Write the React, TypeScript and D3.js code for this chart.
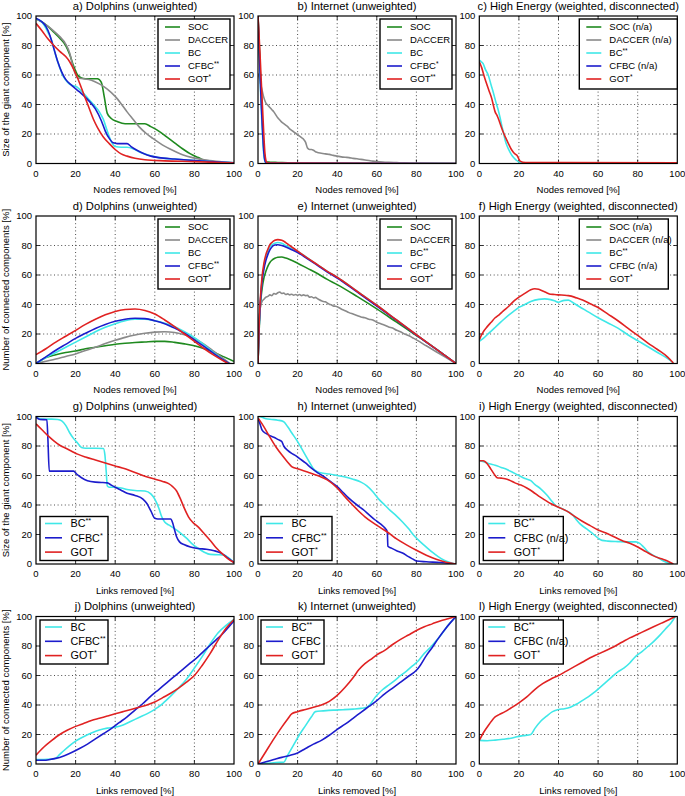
import React from 'react';
import * as d3 from 'd3';

type Pt = [number, number];

// ---------- tick labels ----------
const TICKS = [0, 20, 40, 60, 80, 100];

// ---------- a) Dolphins, giant component vs nodes removed ----------
const aSOC: Pt[] = [[0,98],[3,96],[6,93],[9,89],[12,85],[15,80],[17,74],[19,66],[21,60],[23,58],[25,57.5],[28,57.5],[31,57.5],[33,55],[34.5,45],[36,34],[38,30.5],[41,28.5],[45,27],[50,27],[55,27],[58,25],[62,22],[66,18],[70,14],[74,10],[78,6.5],[82,4],[86,1.5],[90,0.6],[100,0.3]];
const aDACCER: Pt[] = [[0,98],[4,95],[8,91],[12,86],[15,81],[17,75],[19,64],[21,58],[24,57.5],[28,56.5],[32,54],[36,50.5],[40,45.5],[43,40.5],[46,35],[49,30],[52,25],[56,20],[59,17],[64,12.5],[69,9],[74,6],[79,4],[85,2.5],[91,1.5],[100,0.5]];
const aBC: Pt[] = [[0,98],[2,97],[4,94],[6,89],[8,83],[10,73],[12,65],[14,58.5],[16,55],[18,53],[20.5,52],[23,49],[26,44.5],[29,40],[32,35],[34,30],[36,22],[38,15],[40,11.5],[43,11],[46,11],[49,10],[52,8],[55,6.5],[60,4.5],[65,3.5],[70,3],[80,2],[90,1.2],[100,0.5]];
const aCFBC: Pt[] = [[0,98.5],[3,96],[5,93],[7,87],[9,78],[11,69],[13,62],[15,57],[18,53],[22,48.5],[26,43.5],[30,37],[33,29],[35,22],[37,17],[39,14],[41,13.5],[46,13.5],[48,11.5],[51,9],[54,7],[58,5],[62,4],[70,3],[80,2],[90,1.2],[100,0.5]];
const aGOT: Pt[] = [[0,95],[3,90],[6,84.5],[9,80],[12,76],[15,72.5],[17,69],[19,64],[21,58],[23,51],[25,44],[27,37],[29,30],[31,24.5],[34,18],[37,13.5],[40,9.5],[43,6.5],[46,5],[50,3.5],[55,2.5],[65,1.8],[80,1.3],[100,0.3]];

// ---------- b) Internet, giant component vs nodes removed ----------
const bSOC: Pt[] = [[0,100],[0.5,85],[1,68],[1.5,50],[2,34],[2.5,20],[3,9],[3.5,3],[4,1.2],[6,0.9],[10,0.7],[15,0.5],[20,0.2],[30,0.1],[100,0]];
const bDACCER: Pt[] = [[0,61],[0.5,59],[1,56],[1.5,53],[2,50],[2.5,47],[3,44.5],[3.5,42.5],[4,41],[5,39.5],[6,38],[7,36.5],[8,35],[9,33],[10,31],[11,29.5],[12,28],[13,27],[14,26],[15,25],[16,23.5],[17,22.5],[18,21.5],[19,20.5],[20,19.5],[21,18.5],[22,17.5],[23,16.5],[24,14.5],[25,10.5],[26,9.5],[27,9.5],[28,9],[29,8],[30,7.5],[32,7],[34,6.5],[36,6.2],[38,5.5],[40,5],[42,4.5],[44,4.2],[46,4],[48,3.5],[50,3.2],[52,2.8],[54,2.4],[56,2],[58,1.6],[60,1.3],[63,1],[66,0.8],[70,0.6],[74,0.4],[78,0.1],[100,0]];
const bBC: Pt[] = [[0,100],[0.5,80],[1,60],[1.5,42],[2,27],[2.5,14],[3,5],[3.5,1.5],[4,0.5],[100,0]];
const bCFBC: Pt[] = [[0,100],[0.5,82],[1,63],[1.5,45],[2,30],[2.5,17],[3,7],[3.5,2],[4,0.6],[5,0.3],[100,0]];
const bGOT: Pt[] = [[0,100],[0.5,88],[1,75],[1.5,60],[2,46],[2.5,32],[3,18],[3.5,7],[4,2],[4.5,0.7],[5,0.3],[100,0]];

// ---------- c) High Energy, giant component vs nodes removed ----------
const cBC: Pt[] = [[0,70],[1,69],[2,67.5],[3,64],[4.5,60],[6,53],[7,48.5],[8.5,41],[9.6,36],[10.5,31],[11.3,26],[12.2,21],[13,16],[14,12],[15,9],[16,6.5],[17,4.5],[18.5,2.5],[20,1],[22,0.5],[30,0.3],[100,0.3]];
const cGOT: Pt[] = [[0,69],[1.2,65],[2.5,59],[3.7,54],[5,49],[6.3,44],[7.2,39],[8,35],[9,32.5],[9.6,30.5],[10.8,26],[12,21.5],[13.3,17.5],[14.7,13.5],[16,10],[17,8],[18,6.5],[19,5.6],[20,3],[20.6,1.6],[22,0.9],[25,0.7],[40,0.6],[100,0.5]];

// ---------- d) Dolphins, components vs nodes removed ----------
const dSOC: Pt[] = [[0,0],[5,4],[10,6],[15,7.5],[20,8.5],[25,10],[30,11],[35,12],[40,13],[45,13.7],[50,14.2],[55,14.6],[60,15],[65,15],[70,14.3],[75,13.3],[80,12],[85,10],[90,7.5],[95,4.5],[100,1.5]];
const dDACCER: Pt[] = [[0,0],[5,1.5],[10,3],[15,4.8],[20,6.5],[25,8.8],[30,11],[35,13.5],[40,15.7],[45,17.7],[50,19.3],[55,20.5],[60,21.3],[65,21.5],[70,21],[75,19.5],[80,17],[85,13],[90,8],[95,3],[97,1],[98,0]];
const dBC: Pt[] = [[0,0],[5,4],[10,7.5],[15,11],[20,14.5],[25,18],[30,21.5],[35,24.5],[40,27],[45,29],[50,30],[55,30],[60,29],[65,27.3],[70,25],[75,21.5],[80,17.5],[85,12.5],[90,7],[95,2],[97.5,0]];
const dCFBC: Pt[] = [[0,0],[5,4.5],[10,9],[15,13],[20,17],[25,20.5],[30,23.8],[35,26.5],[40,28.6],[45,30],[50,30.7],[55,30.4],[60,29],[65,27],[70,24],[75,20.5],[80,16],[85,11.5],[90,6.5],[95,2],[97.5,0]];
const dGOT: Pt[] = [[0,6],[5,10],[10,14.5],[15,18.5],[20,22.5],[25,26.5],[30,30],[35,33],[40,35.3],[45,36.6],[50,37],[55,36],[60,33.5],[65,29.5],[70,25],[75,20],[80,15],[85,10],[90,5.5],[95,1.5],[97,0]];

// ---------- e) Internet, components vs nodes removed ----------
const eSOC: Pt[] = [[0,0],[0.5,20],[1,35],[1.5,44],[2,50],[3,58],[4,62.5],[5,66],[6,68.5],[7,70],[8.5,71.3],[10,72],[12,72.2],[14,71.5],[16,70.5],[20,68],[25,64.5],[30,61],[35,57],[40,53.5],[50,45.5],[60,37],[70,28],[80,19],[90,9.8],[100,0]];
const eDACCER: Pt[] = [[0,0],[0.5,25],[1,36],[1.5,40],[2,42],[3,43.5],[4,45],[5,45.5],[6,46.5],[7,46],[8,47.5],[9,47],[10,48],[11,48.5],[12,47.5],[13,47.8],[14,46.8],[15,47.2],[16,46.5],[17,47],[18,46.3],[19,46.8],[20,46.2],[21,46.8],[22,46],[23,46.5],[24,46],[25,46.2],[26,45],[27,45.3],[28,44.5],[29,44.8],[30,44],[31,43.2],[32,42.5],[33,42],[34,41.8],[35,41],[36,40.2],[37,39.8],[38,39],[39,38.8],[40,38.5],[42,37],[44,35.8],[46,34.5],[48,33.5],[50,32.5],[52,31.5],[54,31],[56,30],[58,29.5],[60,28],[62,27],[64,26],[66,24.8],[68,24],[70,22.5],[72,21.5],[74,20],[76,19],[78,17.5],[80,16],[85,12],[90,8],[95,4],[100,0]];
const eBC: Pt[] = [[0,0],[0.5,22],[1,38],[1.5,48],[2,56],[3,66],[4,72],[5,76],[6,79],[7,80.5],[8.5,81.5],[10,82],[12,81.5],[14,80],[16,78.5],[20,76],[25,71.5],[30,67],[35,62.5],[40,58.5],[50,49],[60,39.5],[70,29.5],[80,19.5],[90,9.8],[100,0]];
const eCFBC: Pt[] = [[0,0],[0.5,22],[1,38],[1.5,47],[2,55],[3,64],[4,70],[5,74],[6,77],[7,79],[8.5,80.3],[10,80.5],[12,80],[14,79],[16,77.8],[20,75.3],[25,71],[30,66.5],[35,62],[40,58],[50,48.5],[60,39],[70,29.3],[80,19.3],[90,9.7],[100,0]];
const eGOT: Pt[] = [[0,0],[0.5,24],[1,40],[1.5,50],[2,58],[3,68],[4,74],[5,77.5],[6,80.5],[7,82],[8.5,83.5],[10,84],[12,83.5],[14,82],[16,80],[20,76.2],[25,71.5],[30,67],[35,62.5],[40,58.5],[50,49],[60,39.5],[70,29.5],[80,19.5],[90,9.8],[100,0]];

// ---------- f) High Energy, components vs nodes removed ----------
const fBC: Pt[] = [[0,15],[1,16],[2,17],[4,19.5],[6,22],[8,24.5],[10,27],[12,29.5],[15,33],[18,36],[20,38],[23,40],[26,42],[30,43.5],[33,43.8],[36,43.3],[38,42.5],[40,41.5],[41,42],[43,42.8],[45,43],[47,41.5],[50,39],[55,35],[60,31],[65,27.5],[70,24],[75,19.5],[80,15.5],[85,11.5],[90,7.5],[95,3.5],[98,0.5]];
const fGOT: Pt[] = [[0,16],[1,19],[2,21.5],[4,25],[6,28],[8,31],[10,33],[12,35.5],[15,39],[18,43],[20,45],[23,47.5],[26,50],[28,50.7],[30,50.3],[32,49.2],[34,48],[36,47],[38,46.8],[40,46.5],[43,46.3],[45,46],[48,45],[50,44],[53,42.5],[56,40.5],[60,38],[65,33.5],[70,29],[75,24],[80,19],[85,14],[90,9.5],[95,4.5],[98,0.3]];

// ---------- g) Dolphins, giant component vs links removed ----------
const gBC: Pt[] = [[0,99.5],[2,98.5],[5,98.2],[8,98.2],[11,98],[13,97],[15,94],[17,89],[19,85],[21,82],[23,79],[25,78.5],[30,78.5],[34,78.3],[34.8,74],[35.5,62],[36,53],[37,52],[40,52],[43,51.5],[46,50.5],[50,49.8],[55,49.5],[58,47.5],[60,44],[62,38],[63.5,32],[65,28.5],[67,26.5],[70,24],[73,21],[76,17.5],[79,13.5],[82,10.5],[85,8],[88,6.5],[92,6.3],[95,6],[97,4.5],[100,1]];
const gCFBC: Pt[] = [[0,99.5],[2,98],[5.5,97.8],[6,85],[6.7,63],[10,63],[15,63],[19,63],[20.5,61],[23,58.5],[26,56.5],[30,55.5],[33,55.3],[36,55],[38,53.5],[40,52],[43,50],[46,48],[50,46.5],[54,44],[56,41],[58,36],[60,31],[61.5,30.5],[65,30.5],[68,30.5],[69,28],[70,23],[71,18.5],[72.5,15],[75,13],[78,11.5],[82,10.5],[86,10],[90,9],[94,7],[97,4],[100,1]];
const gGOT: Pt[] = [[0,95],[3,91],[6,87],[9,83.5],[12,80.5],[15,78.5],[18,76.5],[21,74.5],[25,72.5],[30,70.5],[35,68.5],[40,66.5],[45,64.5],[50,62],[55,59.5],[60,57.5],[64,56],[67,54.5],[69,52.5],[71,49.5],[73,44],[75,37.5],[77,32],[79,28.5],[82,25],[85,20.5],[88,16],[91,11],[94,7],[97,3.5],[100,1]];

// ---------- h) Internet, giant component vs links removed ----------
const hBC: Pt[] = [[0,100],[2,99.5],[4,98.5],[7,98],[10,97.5],[13,96.5],[15,93],[17,89],[20,83],[23,76],[26,69],[28,64.5],[30,62.5],[33,61.5],[36,61],[40,60],[44,59],[48,57.5],[52,55.5],[55,53],[58,49],[61,44],[64,40],[67,36],[70,32.5],[73,28.5],[76,24],[79,19],[82,15],[85,11.5],[88,8],[91,5],[94,2.5],[97,1],[100,0]];
const hCFBC: Pt[] = [[0,99],[1,95],[2,91],[4,88.5],[6,87],[8,86],[10,84.5],[12,83],[13,80],[15,77],[17,75],[19,73.5],[21,71.5],[24,68.5],[27,65],[30,62],[33,59.5],[36,56.5],[40,52.5],[43,48.5],[46,44.5],[50,40],[53,37],[56,33.5],[59,30],[62,27],[64,24.5],[65.3,22],[65.6,12],[67,11],[70,9],[73,7.5],[76,5],[78,3.5],[80,2],[85,1.5],[92,1],[100,0]];
const hGOT: Pt[] = [[0,99],[3,93],[6,86],[9,79.5],[12,74],[15,69],[17,66],[20,64.5],[25,62.3],[30,60],[35,57],[40,51.5],[43,47],[46,42.5],[50,37],[54,32],[58,28],[62,24.5],[66,21],[70,17],[75,13],[80,9.3],[85,6],[90,3.3],[95,1.2],[100,0]];

// ---------- i) High Energy, giant component vs links removed ----------
const iBC: Pt[] = [[0,70],[3,69],[5,68],[8,67],[11,65.5],[14,64],[17,62],[20,60],[23,58],[26,56.5],[28,54],[31,51],[34,47],[37,42],[39,39],[41,38],[44,36],[47,33.5],[49,30],[51,27],[54,24],[57,21],[60,17.5],[62,16],[65,15.5],[70,15.2],[75,15],[79,15],[81,14],[83,11.5],[85,8.5],[87,6.5],[90,4.5],[93,2],[96,0.3],[98,0]];
const iGOT: Pt[] = [[0,70],[2,70],[4,68],[6,64],[8,60],[9,58.5],[11,58.2],[13,57.8],[15,57],[18,55],[21,53.5],[24,51.5],[27,49],[30,46],[33,43.5],[36,41],[40,38.5],[44,36],[48,32.5],[52,29],[56,26],[60,23],[64,21],[68,18.5],[72,16],[76,14],[80,11.5],[84,8.5],[88,5.5],[92,3.5],[95,2],[98,0]];

// ---------- j) Dolphins, components vs links removed ----------
const jBC: Pt[] = [[0,3],[4,3],[8,3.3],[10,4],[12,6.5],[14,9],[17,12.5],[20,15.5],[24,18.5],[28,21],[32,23],[36,24.3],[40,25],[44,26.5],[48,29],[52,31.5],[56,34],[60,37],[64,41],[68,46],[72,51.5],[76,57.5],[80,65],[84,73],[88,81.5],[92,89],[96,94],[100,98]];
const jCFBC: Pt[] = [[0,2.5],[4,2.5],[7,3],[10,3.8],[14,5.5],[18,7.8],[22,10.5],[26,13.5],[30,17],[34,20.5],[38,24],[42,28],[46,32],[50,36.5],[54,41],[58,46],[62,50.5],[66,55],[70,59.5],[74,64],[78,68.5],[82,73],[86,78],[90,83],[94,88],[98,94],[100,97]];
const jGOT: Pt[] = [[0,6],[4,11.5],[8,16],[12,20],[16,23],[20,25.5],[24,27.5],[28,29.5],[32,31],[36,32.5],[40,34],[44,35.5],[48,37],[52,38.5],[56,40],[60,42],[64,45],[68,48],[72,51.5],[76,55.5],[80,60],[84,67],[88,75],[92,84],[96,92],[100,98]];

// ---------- k) Internet, components vs links removed ----------
const kBC: Pt[] = [[0,0],[5,0.5],[9,1],[13,1.2],[15,6],[18,13],[21,20],[24,26],[27,32],[29,35.5],[33,36],[38,36.5],[43,36.8],[48,37.2],[52,37.7],[55,38.5],[57,41],[59,45],[61,48],[63,50.5],[66,53.5],[69,56.5],[72,60],[75,63],[78,66.5],[81,70],[84,75],[87,79],[90,83.5],[93,88.5],[96,94],[100,100]];
const kCFBC: Pt[] = [[0,0],[4,1.5],[8,3],[12,4.5],[16,5.8],[20,7.5],[24,10.5],[28,13.5],[32,16],[36,19.5],[40,23.5],[44,27],[48,31],[52,35],[56,39],[60,43],[64,47.5],[68,51.5],[72,55.5],[76,59.5],[80,63.5],[82,67],[85,73.5],[88,79],[91,85],[94,90.5],[97,95.5],[100,100]];
const kGOT: Pt[] = [[0,0],[4,8.5],[8,17],[12,25],[15,30.5],[17,34],[20,35.5],[24,37],[28,38.5],[32,40],[36,42.5],[40,46.5],[44,52],[48,58.5],[51,64],[54,68],[57,71],[60,74],[64,77],[68,81],[72,84.5],[76,87.5],[80,90.5],[84,93],[88,95],[92,97],[96,98.5],[100,100]];

// ---------- l) High Energy, components vs links removed ----------
const lBC: Pt[] = [[0,16],[4,15.8],[8,16.2],[12,16.8],[16,17.5],[19,18.5],[22,19.2],[26,20],[28,24],[31,29],[34,32.5],[37,35.5],[40,37],[43,37.5],[46,38.5],[49,40.5],[52,43],[55,45.5],[58,48.5],[61,52],[64,55.5],[67,59],[70,62.5],[73,65],[76,68.5],[79,73],[82,76],[85,79.5],[88,83],[91,87],[94,91.5],[97,96],[99,100]];
const lGOT: Pt[] = [[0,16],[2,21],[5,27],[8,32],[10,33.5],[13,35.5],[16,38],[20,41.5],[24,45.5],[28,50.5],[32,54.5],[36,57.5],[40,60],[44,63],[48,66],[52,69],[56,72],[60,74.5],[64,77],[68,79.5],[72,82.5],[76,85.5],[80,88],[84,90.5],[88,93],[92,95.5],[96,98],[99,100]];

// ---------- categories / labels ----------
const TITLES = [
  'a) Dolphins (unweighted)', 'b) Internet (unweighted)', 'c) High Energy (weighted, disconnected)',
  'd) Dolphins (unweighted)', 'e) Internet (unweighted)', 'f) High Energy (weighted, disconnected)',
  'g) Dolphins (unweighted)', 'h) Internet (unweighted)', 'i) High Energy (weighted, disconnected)',
  'j) Dolphins (unweighted)', 'k) Internet (unweighted)', 'l) High Energy (weighted, disconnected)',
];
const ROW_YLABELS = ['Size of the giant component [%]', 'Number of connected components [%]', 'Size of the giant component [%]', 'Number of connected components [%]'];
const ROW_XLABELS = ['Nodes removed [%]', 'Nodes removed [%]', 'Links removed [%]', 'Links removed [%]'];
const KEYS5 = ['SOC', 'DACCER', 'BC', 'CFBC', 'GOT'];
const KEYS3 = ['BC', 'CFBC', 'GOT'];
const LEGENDS: string[][] = [
  ['SOC', 'DACCER', 'BC', 'CFBC**', 'GOT*'],
  ['SOC', 'DACCER', 'BC', 'CFBC*', 'GOT**'],
  ['SOC (n/a)', 'DACCER (n/a)', 'BC**', 'CFBC (n/a)', 'GOT*'],
  ['SOC', 'DACCER', 'BC', 'CFBC**', 'GOT*'],
  ['SOC', 'DACCER', 'BC**', 'CFBC', 'GOT*'],
  ['SOC (n/a)', 'DACCER (n/a)', 'BC**', 'CFBC (n/a)', 'GOT*'],
  ['BC**', 'CFBC*', 'GOT'],
  ['BC', 'CFBC**', 'GOT*'],
  ['BC**', 'CFBC (n/a)', 'GOT*'],
  ['BC', 'CFBC**', 'GOT*'],
  ['BC**', 'CFBC', 'GOT*'],
  ['BC**', 'CFBC (n/a)', 'GOT*'],
];
const SERIES: (Pt[] | null)[][] = [
  [aSOC, aDACCER, aBC, aCFBC, aGOT],
  [bSOC, bDACCER, bBC, bCFBC, bGOT],
  [null, null, cBC, null, cGOT],
  [dSOC, dDACCER, dBC, dCFBC, dGOT],
  [eSOC, eDACCER, eBC, eCFBC, eGOT],
  [null, null, fBC, null, fGOT],
  [gBC, gCFBC, gGOT],
  [hBC, hCFBC, hGOT],
  [iBC, null, iGOT],
  [jBC, jCFBC, jGOT],
  [kBC, kCFBC, kGOT],
  [lBC, null, lGOT],
];

const COLORS: Record<string, string> = {
  SOC: '#1f8a1f', DACCER: '#8a8a8a', BC: '#3fe8e8', CFBC: '#1c1ccc', GOT: '#e02222',
};

// ---------- layout ----------
const W = 685, H = 796;
const COL_X = [36, 258, 479.3];
const ROW_Y = [16, 216, 416.5, 616.5];
const PW = 198, PH = 147.5;
const FONT = '"Liberation Sans", Arial, Helvetica, sans-serif';

// legend boxes: [x offset, y offset, width] relative to plot
const LEG_BOX: [number, number, number][] = [
  [122, 3, 72], [122, 3, 72], [100, 3, 98],
  [122, 3, 72], [122, 3, 72], [100, 3, 89],
  [4, PH - 47.5, 68], [3, PH - 47.5, 71], [4, PH - 47.5, 80],
  [4, 3.5, 68], [3, 3.5, 63], [4, 3.5, 80],
];

function Lbl({ x, y, text, size, anchor = 'start' }: { x: number; y: number; text: string; size: number; anchor?: string }) {
  const m = text.match(/^(.*?)(\*+)$/);
  const base = m ? m[1] : text;
  const sup = m ? m[2] : '';
  return (
    <text x={x} y={y} fontSize={size} fontFamily={FONT} textAnchor={anchor} fill="#000">
      {base}
      {sup && <tspan fontSize={size * 0.68} dy={-size * 0.38}>{sup}</tspan>}
    </text>
  );
}

function Panel({ idx }: { idx: number }) {
  const row = Math.floor(idx / 3), col = idx % 3;
  const x0 = COL_X[col], y0 = ROW_Y[row];
  const xs = d3.scaleLinear().domain([0, 100]).range([x0, x0 + PW]);
  const ys = d3.scaleLinear().domain([0, 100]).range([y0 + PH, y0]);
  const line = d3.line<Pt>().x(d => xs(d[0])).y(d => ys(d[1])).curve(d3.curveMonotoneX);
  const keys = row < 2 ? KEYS5 : KEYS3;
  const big = row >= 2;
  const [lx, ly, lw] = LEG_BOX[idx];
  const lfs = big ? 10.8 : 9.5;
  const lstep = big ? 14.3 : 13;
  const lh = big ? 44 : 70;
  const lfirst = big ? 7 : 8;
  const inner = TICKS.slice(1, -1);
  const clipId = `clip${idx}`;
  return (
    <g>
      <defs>
        <clipPath id={clipId}><rect x={x0} y={y0} width={PW} height={PH} /></clipPath>
      </defs>
      {/* grid */}
      {inner.map(t => (
        <g key={t}>
          <line x1={xs(t)} x2={xs(t)} y1={y0} y2={y0 + PH} stroke="#000" strokeWidth={0.7} strokeDasharray="1,2.6" />
          <line x1={x0} x2={x0 + PW} y1={ys(t)} y2={ys(t)} stroke="#000" strokeWidth={0.7} strokeDasharray="1,2.6" />
          <line x1={xs(t)} x2={xs(t)} y1={y0 + PH} y2={y0 + PH - 4} stroke="#000" strokeWidth={0.8} />
          <line x1={xs(t)} x2={xs(t)} y1={y0} y2={y0 + 4} stroke="#000" strokeWidth={0.8} />
          <line x1={x0} x2={x0 + 4} y1={ys(t)} y2={ys(t)} stroke="#000" strokeWidth={0.8} />
          <line x1={x0 + PW} x2={x0 + PW - 4} y1={ys(t)} y2={ys(t)} stroke="#000" strokeWidth={0.8} />
        </g>
      ))}
      {/* series */}
      <g clipPath={`url(#${clipId})`}>
        {SERIES[idx].map((s, i) => s ? (
          <path key={i} d={line(s) || ''} fill="none" stroke={COLORS[keys[i]]} strokeWidth={1.6} strokeLinejoin="round" />
        ) : null)}
      </g>
      {/* frame */}
      <rect x={x0} y={y0} width={PW} height={PH} fill="none" stroke="#000" strokeWidth={1.2} />
      {/* tick labels */}
      {TICKS.map(t => (
        <g key={'t' + t}>
          <text x={xs(t)} y={y0 + PH + 13} fontSize={9.5} fontFamily={FONT} textAnchor="middle">{t}</text>
          <text x={x0 - 4} y={ys(t) + 3.3} fontSize={9.5} fontFamily={FONT} textAnchor="end">{t}</text>
        </g>
      ))}
      {/* title */}
      <text x={x0 + PW / 2} y={y0 - 6.5} fontSize={11.2} fontFamily={FONT} textAnchor="middle">{TITLES[idx]}</text>
      {/* x label */}
      <text x={x0 + PW / 2} y={y0 + PH + 29.5} fontSize={9.5} fontFamily={FONT} textAnchor="middle">{ROW_XLABELS[row]}</text>
      {/* y label */}
      {col === 0 && (
        <text transform={`translate(9,${y0 + PH / 2}) rotate(-90)`} fontSize={9.5} fontFamily={FONT} textAnchor="middle">{ROW_YLABELS[row]}</text>
      )}
      {/* legend */}
      <g>
        <rect x={x0 + lx} y={y0 + ly} width={lw} height={lh} fill="#fff" stroke="#000" strokeWidth={1.4} />
        {LEGENDS[idx].map((lab, i) => {
          const yy = y0 + ly + lfirst + i * lstep;
          return (
            <g key={lab}>
              <line x1={x0 + lx + (big ? 5 : 7)} x2={x0 + lx + 22} y1={yy} y2={yy} stroke={COLORS[keys[i]]} strokeWidth={1.6} />
              <Lbl x={x0 + lx + (big ? 30.5 : 30)} y={yy + lfs * 0.36} text={lab} size={lfs} />
            </g>
          );
        })}
      </g>
    </g>
  );
}

export default function App() {
  return (
    <svg width={W} height={H} viewBox={`0 0 ${W} ${H}`} style={{ position: 'absolute', left: 0, top: 0, background: '#fff' }}>
      <rect x={0} y={0} width={W} height={H} fill="#fff" />
      {TITLES.map((_, i) => <Panel key={i} idx={i} />)}
    </svg>
  );
}
